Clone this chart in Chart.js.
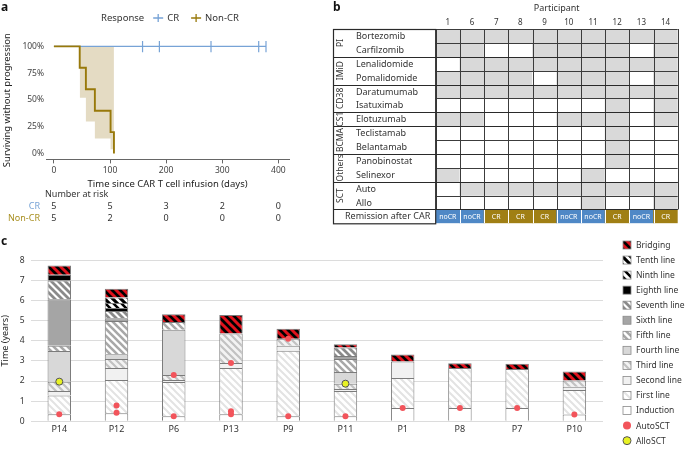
<!DOCTYPE html>
<html><head><meta charset="utf-8">
<script src="https://cdn.jsdelivr.net/npm/chart.js@4.4.1/dist/chart.umd.min.js"></script>
<style>
html,body{margin:0;padding:0;background:#fff;width:685px;height:454px;overflow:hidden;position:relative;}
canvas{position:absolute;}
#ca{left:0;top:0;} #cb{left:330px;top:0;} #cc{left:0;top:230px;}
</style></head><body>
<canvas id="cc" width="685" height="224"></canvas>
<canvas id="ca" width="330" height="230"></canvas>
<canvas id="cb" width="355" height="235"></canvas>
<script>
// ---------- Panel a data ----------
const kmTicks = [0, 100, 200, 300, 400];
const crTimes = [0, 378];
const crSurv = [100, 100];
const crCensor = [158, 188, 280, 365, 378];
const noncrTimes = [0, 46, 57, 73, 101, 107];
const noncrSurv = [100, 80, 60, 40, 20, 0];
const bandTimes = [46, 57, 73, 101, 107];
const bandLower = [52, 30, 14, 4, 4];
const bandUpper = [100, 100, 100, 100, 100];
const riskCR = [5, 5, 3, 2, 0];
const riskNonCR = [5, 2, 0, 0, 0];

// ---------- Panel b data ----------
const participants = ['1','6','7','8','9','10','11','12','13','14'];
const drugGroups = ['PI','IMiD','CD38','CS1','BCMA','Others','SCT'];
const groupSizes = [2, 2, 2, 1, 2, 2, 2];
const drugs = ['Bortezomib','Carfilzomib','Lenalidomide','Pomalidomide','Daratumumab','Isatuximab','Elotuzumab','Teclistamab','Belantamab','Panobinostat','Selinexor','Auto','Allo'];
const exposure = [
  [1,1,1,1,1,1,1,1,1,1],
  [1,1,0,0,1,1,1,1,0,1],
  [0,1,1,1,1,1,1,1,1,1],
  [1,1,1,1,0,1,1,1,0,1],
  [1,1,1,1,1,1,1,1,1,1],
  [0,0,0,0,0,0,0,1,0,1],
  [1,1,0,0,0,1,1,1,0,1],
  [0,0,0,0,0,0,0,1,0,0],
  [0,0,0,0,0,0,0,1,0,0],
  [0,0,0,0,0,0,0,1,0,0],
  [1,0,0,0,0,0,1,0,0,0],
  [0,1,1,1,1,1,1,1,1,1],
  [0,0,0,0,0,0,1,0,0,1]
];
const remission = ['noCR','noCR','CR','CR','CR','noCR','noCR','CR','noCR','CR'];

// ---------- Panel c data (years) ----------
const patients = ['P14','P12','P6','P13','P9','P11','P1','P8','P7','P10'];
const lineNames = ['Induction','First line','Second line','Third line','Fourth line','Fifth line','Sixth line','Seventh line','Eighth line','Ninth line','Tenth line','Bridging'];
const induction = [0.35, 0.40, 0.25, 0.35, 0.25, 0.25, 0.66, 0.66, 0.66, 0.34];
const line1     = [0.93, 1.65, 1.70, 2.30, 3.25, 1.25, 1.49, 1.99, 1.94, 1.22];
const line2     = [0.23, 0.60, 0.10, 0.25, 0.26, 0.10, 0.82, null, null, 0.16];
const line3     = [0.46, 0.45, 0.25, 1.46, 0.34, 0.27, null, null, null, 0.31];
const line4     = [1.52, 0.23, 2.25, null, null, 0.58, null, null, null, null];
const line5     = [0.26, 1.65, 0.39, null, null, 0.65, null, null, null, null];
const line6     = [2.31, 0.14, null, null, null, 0.15, null, null, null, null];
const line7     = [0.94, 0.36, null, null, null, 0.42, null, null, null, null];
const line8     = [0.28, 0.15, null, null, null, null, null, null, null, null];
const line9     = [null, 0.25, null, null, null, null, null, null, null, null];
const line10    = [null, 0.27, null, null, null, null, null, null, null, null];
const bridging  = [0.46, 0.44, 0.38, 0.92, 0.50, 0.16, 0.35, 0.24, 0.26, 0.44];
const autoSCTPatient = ['P14','P12','P12','P6','P6','P13','P13','P13','P9','P9','P11','P1','P8','P7','P10'];
const autoSCTTime    = [0.35, 0.42, 0.78, 0.25, 2.30, 0.35, 0.50, 2.90, 0.25, 4.10, 0.25, 0.66, 0.66, 0.66, 0.34];
const alloSCTPatient = ['P14','P11'];
const alloSCTTime    = [1.97, 1.87];
const yearTicks = [0,1,2,3,4,5,6,7,8];

// ---------- common ----------
const FF = "'Noto Sans', 'DejaVu Sans', sans-serif";
Chart.defaults.font.family = FF;
Chart.defaults.color = '#333';
Chart.defaults.animation = false;
Chart.defaults.responsive = false;
Chart.defaults.devicePixelRatio = 1;
Chart.defaults.plugins.legend.display = false;
Chart.defaults.plugins.tooltip.enabled = false;

const CR_C = '#77a3d6', NONCR_C = '#98790b', BAND_C = '#e4dbc3';

function panelLabel(ctx, t, x, y){
  ctx.save(); ctx.font = 'bold 12px ' + FF; ctx.fillStyle = '#111';
  ctx.textBaseline = 'middle'; ctx.textAlign = 'left'; ctx.fillText(t, x, y); ctx.restore();
}

// ================= Panel a =================
const pluginA = {
  id: 'kmExtras',
  afterDraw(chart){
    const ctx = chart.ctx, x = chart.scales.x;
    panelLabel(ctx, 'a', 1, 8);
    ctx.save();
    ctx.textBaseline = 'middle';
    ctx.font = '9.5px ' + FF;
    let xx = 101; const yy = 18;
    ctx.fillStyle = '#333'; ctx.textAlign = 'left';
    ctx.fillText('Response', xx, yy);
    xx += ctx.measureText('Response').width + 9;
    [['CR', CR_C], ['Non-CR', NONCR_C]].forEach(([lab, col]) => {
      ctx.strokeStyle = col; ctx.lineWidth = 1.3;
      ctx.beginPath(); ctx.moveTo(xx, yy); ctx.lineTo(xx + 10, yy);
      ctx.moveTo(xx + 5, yy - 4); ctx.lineTo(xx + 5, yy + 4); ctx.stroke();
      xx += 14;
      ctx.fillStyle = '#333'; ctx.fillText(lab, xx, yy);
      xx += ctx.measureText(lab).width + 12;
    });
    // number at risk table
    ctx.font = '9px ' + FF;
    ctx.fillStyle = '#333'; ctx.textAlign = 'left';
    ctx.fillText('Number at risk', 45, 194);
    ctx.textAlign = 'right';
    ctx.fillStyle = CR_C; ctx.fillText('CR', 40, 206);
    ctx.fillStyle = '#a88f20'; ctx.fillText('Non-CR', 40, 218);
    ctx.textAlign = 'center'; ctx.fillStyle = '#333';
    kmTicks.forEach((t, i) => {
      const px = x.getPixelForValue(t);
      ctx.fillText(String(riskCR[i]), px, 206);
      ctx.fillText(String(riskNonCR[i]), px, 218);
    });
    ctx.restore();
  }
};

new Chart(document.getElementById('ca'), {
  type: 'line',
  data: { datasets: [
    { label: 'band upper', data: bandTimes.map((t, i) => ({x: t, y: bandUpper[i]})), stepped: true,
      borderWidth: 0, borderColor: 'transparent', pointRadius: 0, fill: '+1', backgroundColor: BAND_C, order: 5 },
    { label: 'band lower', data: bandTimes.map((t, i) => ({x: t, y: bandLower[i]})), stepped: true,
      borderWidth: 0, borderColor: 'transparent', pointRadius: 0, fill: false, order: 4 },
    { label: 'CR', data: crTimes.map((t, i) => ({x: t, y: crSurv[i]})), stepped: true,
      borderColor: CR_C, borderWidth: 1.2, pointRadius: 0, fill: false, order: 2 },
    { label: 'CR censored', data: crCensor.map(t => ({x: t, y: 100})), showLine: false,
      pointStyle: 'line', rotation: 90, pointRadius: 6, pointBorderColor: CR_C, pointBorderWidth: 1.2, order: 1 },
    { label: 'Non-CR', data: noncrTimes.map((t, i) => ({x: t, y: noncrSurv[i]})), stepped: true,
      borderColor: NONCR_C, borderWidth: 1.9, pointRadius: 0, fill: false, order: 0 }
  ]},
  options: {
    layout: { padding: { left: 2, right: 41, top: 41, bottom: 40 } },
    scales: {
      x: { type: 'linear', min: -14, max: 419,
        afterBuildTicks: s => { s.ticks = kmTicks.map(v => ({value: v})); },
        ticks: { font: { size: 8.5 }, color: '#444', padding: 2 },
        grid: { drawOnChartArea: false, drawTicks: true, tickLength: 4, color: '#666' },
        border: { display: true, color: '#666', width: 1 },
        title: { display: true, text: 'Time since CAR T cell infusion (days)', font: { size: 9.5 }, color: '#222', padding: { top: 1, bottom: 0 } }
      },
      y: { type: 'linear', min: -5.4, max: 105,
        afterBuildTicks: s => { s.ticks = [0, 25, 50, 75, 100].map(v => ({value: v})); },
        ticks: { font: { size: 8.5 }, color: '#444', padding: 2, callback: v => v + '%' },
        grid: { display: false, drawTicks: false },
        border: { display: false },
        title: { display: true, text: 'Surviving without progression', font: { size: 9.5 }, color: '#222', padding: { top: 0, bottom: 7 } }
      }
    }
  },
  plugins: [pluginA]
});

// ================= Panel b =================
const GREY = '#d9d9d9';
const remColor = r => r === 'CR' ? '#a07f14' : '#4f88c6';
const rowsB = drugs.length + 1;
const dsB = drugs.map((d, r) => ({
  label: d,
  data: participants.map(() => [r, r + 1]),
  backgroundColor: exposure[r].map(v => v ? GREY : '#ffffff'),
  borderWidth: 0, barPercentage: 1, categoryPercentage: 1, grouped: false
}));
dsB.push({
  label: 'Remission after CAR',
  data: participants.map(() => [drugs.length, drugs.length + 1]),
  backgroundColor: remission.map(remColor),
  borderWidth: 0, barPercentage: 1, categoryPercentage: 1, grouped: false
});

const pluginB = {
  id: 'tableB',
  afterDatasetsDraw(chart){
    const {ctx, chartArea: ca, scales: {x, y}} = chart;
    const n = participants.length;
    const colW = (ca.right - ca.left) / n;
    const L = 3.5;
    const yp = r => y.getPixelForValue(r);
    ctx.save();
    ctx.strokeStyle = '#ffffff'; ctx.lineWidth = 1;
    ctx.beginPath();
    for (let c = 1; c < n; c++) { const xx = Math.round(ca.left + c * colW) + 0.5; ctx.moveTo(xx, yp(drugs.length)); ctx.lineTo(xx, yp(rowsB)); }
    ctx.stroke();
    ctx.strokeStyle = '#3c3c3c'; ctx.lineWidth = 1;
    ctx.beginPath();
    for (let r = 0; r <= drugs.length; r++) { const yy = Math.round(yp(r)) + 0.5; ctx.moveTo(ca.left, yy); ctx.lineTo(ca.right, yy); }
    for (let c = 0; c <= n; c++) { const xx = Math.round(ca.left + c * colW) + 0.5; ctx.moveTo(xx, yp(0)); ctx.lineTo(xx, yp(drugs.length)); }
    ctx.stroke();
    ctx.strokeStyle = '#2a2a2a'; ctx.lineWidth = 1.2;
    ctx.strokeRect(L, Math.round(yp(0)) + 0.5, ca.left - L, yp(rowsB) - yp(0));
    ctx.beginPath();
    let acc = 0;
    groupSizes.forEach(g => { acc += g; const yy = Math.round(yp(acc)) + 0.5; ctx.moveTo(L, yy); ctx.lineTo(ca.right, yy); });
    ctx.stroke();
    ctx.textBaseline = 'middle';
    ctx.fillStyle = '#333';
    ctx.font = '9px ' + FF; ctx.textAlign = 'left';
    drugs.forEach((d, r) => ctx.fillText(d, 26, (yp(r) + yp(r + 1)) / 2 + 0.5));
    ctx.font = '8.5px ' + FF; ctx.textAlign = 'center';
    acc = 0;
    drugGroups.forEach((g, i) => {
      const cy = (yp(acc) + yp(acc + groupSizes[i])) / 2; acc += groupSizes[i];
      ctx.save(); ctx.translate(L + 7, cy); ctx.rotate(-Math.PI / 2); ctx.fillText(g, 0, 0); ctx.restore();
    });
    ctx.font = '9px ' + FF;
    ctx.fillText('Remission after CAR', (L + ca.left) / 2 + 3, (yp(drugs.length) + yp(rowsB)) / 2 + 0.5);
    ctx.fillStyle = '#ffffff'; ctx.font = '7px ' + FF;
    remission.forEach((r, c) => ctx.fillText(r, x.getPixelForValue(c), (yp(drugs.length) + yp(rowsB)) / 2 + 0.5));
    ctx.fillStyle = '#333'; ctx.font = '8px ' + FF;
    participants.forEach((p, c) => ctx.fillText(p, x.getPixelForValue(c), 22.5));
    ctx.font = '9px ' + FF;
    ctx.fillText('Participant', (ca.left + ca.right) / 2, 8.5);
    ctx.restore();
    panelLabel(ctx, 'b', 3, 8);
  }
};

new Chart(document.getElementById('cb'), {
  type: 'bar',
  data: { labels: participants, datasets: dsB },
  options: {
    layout: { padding: { left: 105.7, right: 7.3, top: 29, bottom: 11.7 } },
    scales: {
      x: { type: 'category', display: false, offset: true },
      y: { type: 'linear', display: false, min: 0, max: rowsB, reverse: true }
    }
  },
  plugins: [pluginB]
});

// ================= Panel c =================
const cc = document.getElementById('cc');
const cctx = cc.getContext('2d');
function stripes(bg, fg, size, lw){
  const c = document.createElement('canvas'); c.width = c.height = size;
  const g = c.getContext('2d');
  g.fillStyle = bg; g.fillRect(0, 0, size, size);
  g.strokeStyle = fg; g.lineWidth = lw;
  g.beginPath();
  for (let k = -1; k <= 1; k++) { g.moveTo(-size, -size + k * size); g.lineTo(2 * size, 2 * size + k * size); }
  g.stroke();
  return cctx.createPattern(c, 'repeat');
}
const segFills = [
  '#ffffff',
  stripes('#ffffff', '#e3e3e3', 7, 2),
  '#f1f1f1',
  stripes('#f3f3f3', '#c2c2c2', 7, 2.2),
  '#d8d8d8',
  stripes('#ffffff', '#a8a8a8', 7, 2.6),
  '#a5a5a5',
  stripes('#ffffff', '#8a8a8a', 7, 2.8),
  '#000000',
  stripes('#ffffff', '#000000', 8, 2.6),
  stripes('#000000', '#ffffff', 8, 2.6),
  stripes('#000000', '#e0121c', 8, 3)
];
const segData = [induction, line1, line2, line3, line4, line5, line6, line7, line8, line9, line10, bridging];
const dsC = segData.map((arr, i) => ({
  type: 'bar', label: lineNames[i], data: arr, backgroundColor: segFills[i],
  borderColor: '#7b7b7b', borderWidth: {top: 1, left: 1, right: 1, bottom: 0}, borderSkipped: false,
  barPercentage: 0.41, categoryPercentage: 1, stack: 'lines', order: 2
}));
dsC.push({ type: 'line', label: 'AutoSCT', data: autoSCTPatient.map((p, i) => ({x: p, y: autoSCTTime[i]})),
  showLine: false, pointRadius: 3, pointBackgroundColor: '#f2545b', pointBorderColor: '#f2545b', pointBorderWidth: 0,
  stack: 'auto', order: 0 });
dsC.push({ type: 'line', label: 'AlloSCT', data: alloSCTPatient.map((p, i) => ({x: p, y: alloSCTTime[i]})),
  showLine: false, pointRadius: 3.5, pointBackgroundColor: '#e8f224', pointBorderColor: '#555', pointBorderWidth: 1,
  stack: 'allo', order: 0 });

const pluginC = {
  id: 'legendC',
  afterDraw(chart){
    const ctx = chart.ctx;
    panelLabel(ctx, 'c', 1, 12);
    const ds = chart.data.datasets;
    const items = ds.slice(0, segData.length).reverse().concat(ds.slice(segData.length));
    ctx.save();
    ctx.font = '8.5px ' + FF; ctx.textBaseline = 'middle'; ctx.textAlign = 'left';
    items.forEach((d, i) => {
      const cy = 15 + i * 15.05;
      if (d.type === 'line') {
        ctx.beginPath(); ctx.arc(627, cy, 4, 0, Math.PI * 2);
        ctx.fillStyle = d.pointBackgroundColor; ctx.fill();
        if (d.pointBorderWidth) { ctx.strokeStyle = d.pointBorderColor; ctx.lineWidth = 1; ctx.stroke(); }
      } else {
        ctx.fillStyle = d.backgroundColor; ctx.fillRect(623, cy - 4, 8, 8);
        ctx.strokeStyle = '#8a8a8a'; ctx.lineWidth = 0.8; ctx.strokeRect(623, cy - 4, 8, 8);
      }
      ctx.fillStyle = '#333'; ctx.fillText(d.label, 636, cy + 0.5);
    });
    ctx.restore();
  }
};

new Chart(cc, {
  type: 'bar',
  data: { labels: patients, datasets: dsC },
  options: {
    layout: { padding: { left: 0, right: 82, top: 30.3, bottom: 15.9 } },
    scales: {
      x: { type: 'category', stacked: true, offset: true,
        grid: { display: false, drawTicks: false }, border: { display: false },
        ticks: { font: { size: 9 }, color: '#333', padding: 3 } },
      y: { type: 'linear', stacked: true, min: 0, max: 8,
        afterBuildTicks: s => { s.ticks = yearTicks.map(v => ({value: v})); },
        ticks: { font: { size: 8.5 }, color: '#333', padding: 6 },
        grid: { color: '#dcdcdc', lineWidth: 1, drawTicks: false }, border: { display: false },
        title: { display: true, text: 'Time (years)', font: { size: 9 }, color: '#222', padding: { top: 0, bottom: 3 } } }
    }
  },
  plugins: [pluginC]
});
</script>
</body></html>
